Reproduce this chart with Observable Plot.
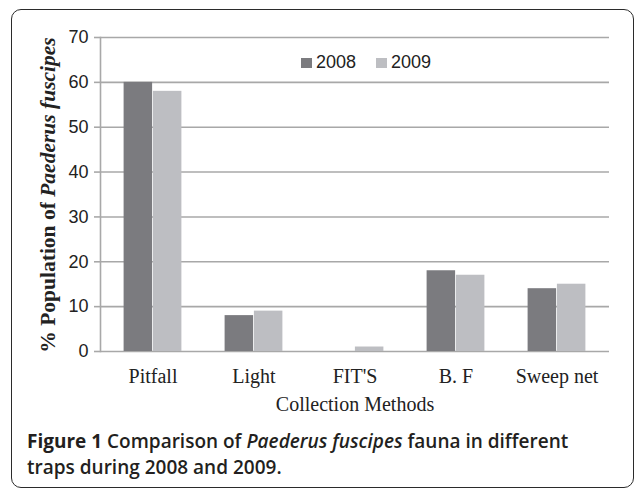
<!DOCTYPE html>
<html>
<head>
<meta charset="utf-8">
<script src="https://cdn.jsdelivr.net/npm/d3@7"></script>
<script src="https://cdn.jsdelivr.net/npm/@observablehq/plot@0.6"></script>
<style>
  html, body { margin: 0; padding: 0; background: #fff; }
  body { width: 636px; height: 489px; position: relative; overflow: hidden; }
  #frame { position: absolute; left: 11px; top: 9px; width: 623px; height: 479px;
    box-sizing: border-box; border: 1.6px solid #2b2b2b; border-radius: 10px; }
  #chart { position: absolute; left: 0; top: 0; }
  #legend { position: absolute; top: 52px; left: 301px; font-family: Arial, "Liberation Sans", sans-serif;
    font-size: 18px; color: #222; display: flex; align-items: center; }
  #legend .item { display: flex; align-items: center; margin-right: 20px; }
  #legend .sw { width: 11px; height: 10px; margin-right: 4px; }
  #caption { position: absolute; left: 27px; top: 428px; width: 600px; white-space: nowrap;
    font-family: "Open Sans", sans-serif; font-weight: 600; font-size: 19px; line-height: 26px; color: #231f20; }
  #caption b { font-weight: 700; }
</style>
</head>
<body>
<div id="frame"></div>
<div id="chart"></div>
<div id="legend"></div>
<div id="caption"><b>Figure 1</b> Comparison of <i>Paederus fuscipes</i> fauna in different<br>traps during 2008 and 2009.</div>
<script>
const categories = ["Pitfall", "Light", "FIT'S", "B. F", "Sweep net"];
const years = ["2008", "2009"];
const values2008 = [60, 8, 0, 18, 14];
const values2009 = [58, 9, 1, 17, 15];
const yTicks = [0, 10, 20, 30, 40, 50, 60, 70];
const colors = ["#7b7b7f", "#bdbec2"];

const d2008 = categories.map((c, i) => ({cat: c, v: values2008[i]}));
const d2009 = categories.map((c, i) => ({cat: c, v: values2009[i]}));

const chart = Plot.plot({
  width: 636,
  height: 420,
  marginLeft: 100,
  marginRight: 27,
  marginTop: 37,
  marginBottom: 69,
  x: {domain: categories, padding: 0, label: null},
  y: {domain: [0, 70], label: null},
  style: {background: "transparent", overflow: "visible"},
  marks: [
    Plot.ruleY(yTicks, {stroke: "#a8a8a8", strokeWidth: 1.6}),
    Plot.frame({anchor: "left", stroke: "#a8a8a8", strokeWidth: 1.6}),
    Plot.barY(d2008, {x: "cat", y: "v", fill: colors[0], insetLeft: 21.6, insetRight: 50.9}),
    Plot.barY(d2009, {x: "cat", y: "v", fill: colors[1], insetLeft: 50.9, insetRight: 21.6}),
    Plot.axisY({ticks: yTicks, tickSize: 6, tickPadding: 6, stroke: "#a8a8a8", strokeWidth: 1.6,
      fontSize: 18, fontFamily: "Arial, 'Liberation Sans', sans-serif", fill: "#222", label: null}),
    Plot.axisX({tickSize: 0, tickPadding: 17, fontSize: 20, fontFamily: "'Liberation Serif', 'Times New Roman', serif",
      fill: "#222", label: "Collection Methods", labelAnchor: "center", labelOffset: 59})
  ]
});
document.getElementById("chart").appendChild(chart);

const svg = d3.select(chart);
svg.selectAll("[aria-label='x-axis label'] text")
  .style("font-size", "20px")
  .style("font-family", "'Liberation Serif', 'Times New Roman', serif");

// y-axis label with mixed styles
const yl = svg.append("text")
  .attr("transform", "rotate(-90)")
  .attr("x", -195)
  .attr("y", 55)
  .attr("text-anchor", "middle")
  .style("font-family", "'Liberation Serif', 'Times New Roman', serif")
  .style("font-size", "21.5px")
  .style("font-weight", "bold")
  .style("fill", "#222");
yl.append("tspan").text("% Population of ");
yl.append("tspan").style("font-style", "italic").text("Paederus fuscipes");

// legend
const leg = d3.select("#legend");
years.forEach((y, i) => {
  const it = leg.append("div").attr("class", "item");
  it.append("div").attr("class", "sw").style("background", colors[i]);
  it.append("span").text(y);
});
</script>
</body>
</html>
